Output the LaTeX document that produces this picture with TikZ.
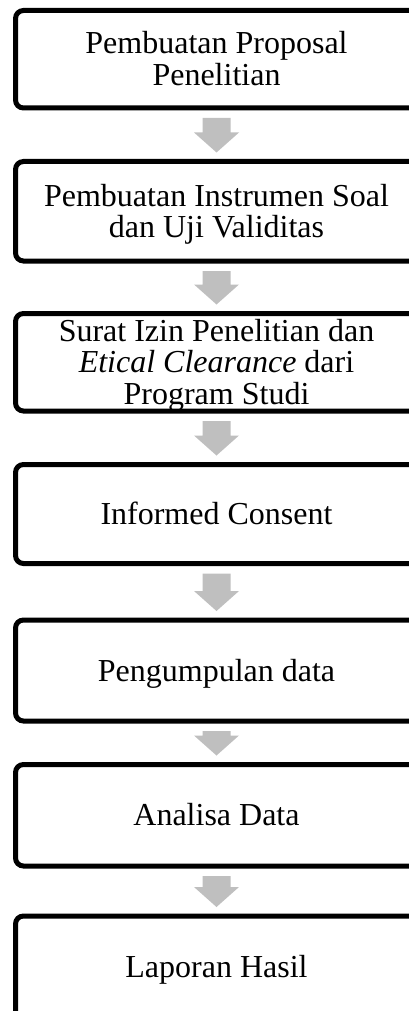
\documentclass[tikz,border=0pt]{standalone}
\usepackage{fontspec}
\setmainfont{Liberation Serif}
\usetikzlibrary{calc}
\definecolor{arrowgray}{RGB}{191,191,191}
\tikzset{
  stepbox/.style={draw=black, line width=5pt, rounded corners=8pt, rectangle,
    minimum width=402pt, inner sep=0pt, align=center,
    font=\fontsize{32}{31.5}\selectfont, text height=21pt, text depth=0pt},
  twolines/.style={text height=52.5pt},
  threelines/.style={text height=84pt},
  arrowfill/.style={fill=arrowgray, draw=none}
}
\newcommand\flowarrow[2]{%
  \fill[arrowfill] let \p1=($(#1.south)+(0,-7.5pt)$), \p2=($(#2.north)+(0,6.5pt)$) in
   (\x1-14pt,\y1) -- (\x1+14pt,\y1) -- (\x1+14pt,\y2+20pt) -- (\x1+22.5pt,\y2+20pt)
   -- (\x1,\y2) -- (\x1-22.5pt,\y2+20pt) -- (\x1-14pt,\y2+20pt) -- cycle;}
\begin{document}
\begin{tikzpicture}[x=1pt,y=-1pt]
\useasboundingbox (0,0) rectangle (409,1011);
\clip (0,0) rectangle (409,1011);
\node[stepbox, twolines, minimum height=97.5pt] (b1) at (216.5,59.25) {Pembuatan Proposal\\Penelitian};
\node[stepbox, twolines, minimum height=99.5pt] (b2) at (216.5,211.25) {Pembuatan Instrumen Soal\\dan Uji Validitas};
\node[stepbox, threelines, minimum height=97.5pt] (b3) at (216.5,362.25) {Surat Izin Penelitian dan\\\textit{Etical Clearance} dari\\Program Studi};
\node[stepbox, minimum height=99pt] (b4) at (216.5,514) {Informed Consent};
\node[stepbox, minimum height=101pt] (b5) at (216.5,670.5) {Pengumpulan data};
\node[stepbox, minimum height=101.5pt] (b6) at (216.5,815.25) {Analisa Data};
\node[stepbox, minimum height=102pt] (b7) at (216.5,967) {Laporan Hasil};
\flowarrow{b1}{b2}
\flowarrow{b2}{b3}
\flowarrow{b3}{b4}
\flowarrow{b4}{b5}
\flowarrow{b5}{b6}
\flowarrow{b6}{b7}
\end{tikzpicture}
\end{document}
